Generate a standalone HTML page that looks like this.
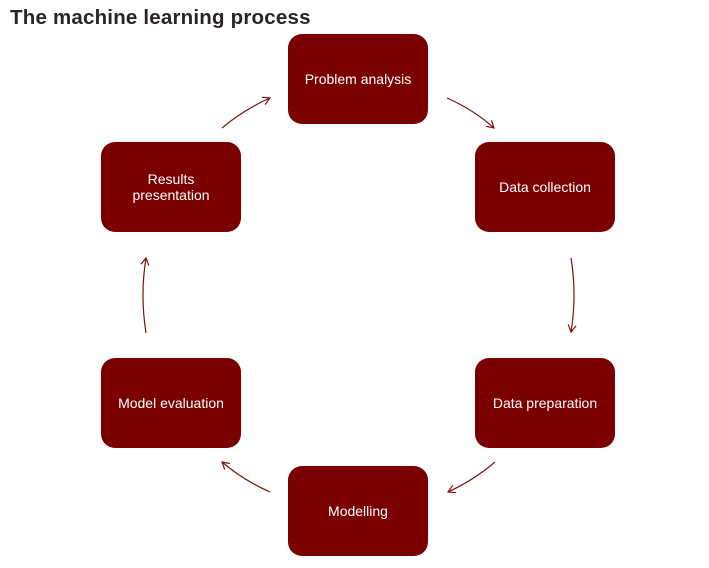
<!DOCTYPE html>
<html><head><style>
body{margin:0;width:709px;height:568px;background:#fff;position:relative;font-family:"Liberation Sans",sans-serif;overflow:hidden}
h1{position:absolute;left:10px;top:6px;margin:0;font-size:20.5px;font-weight:bold;color:#2a2424;letter-spacing:0.2px}
.b{position:absolute;width:140px;height:90px;background:#7a0000;border-radius:14px;color:#fff;font-size:14px;display:flex;align-items:center;justify-content:center;text-align:center;line-height:16px}
svg{position:absolute;left:0;top:0}
</style></head><body>
<h1>The machine learning process</h1>
<div class="b" style="left:288px;top:34px">Problem analysis</div>
<div class="b" style="left:475px;top:142px">Data collection</div>
<div class="b" style="left:475px;top:358px">Data preparation</div>
<div class="b" style="left:288px;top:466px">Modelling</div>
<div class="b" style="left:101px;top:358px">Model evaluation</div>
<div class="b" style="left:101px;top:142px">Results<br>presentation</div>
<svg width="709" height="568" fill="none" stroke="#7a1010" stroke-width="1.2">
<defs><marker id="a" markerWidth="10" markerHeight="10" refX="8" refY="5" orient="auto" markerUnits="userSpaceOnUse"><path d="M1,1 L8,5 L1,9" stroke="#7a1010" fill="none" stroke-width="1.2"/></marker></defs>
<path d="M447,98 Q474,110 494,128" marker-end="url(#a)"/>
<path d="M571,258 Q577,295 571,332" marker-end="url(#a)"/>
<path d="M495,462 Q474,480 448,492" marker-end="url(#a)"/>
<path d="M270,492 Q243,480 222,462" marker-end="url(#a)"/>
<path d="M146,333 Q140,295 146,258" marker-end="url(#a)"/>
<path d="M222,128 Q243,110 270,98" marker-end="url(#a)"/>
</svg>
</body></html>
